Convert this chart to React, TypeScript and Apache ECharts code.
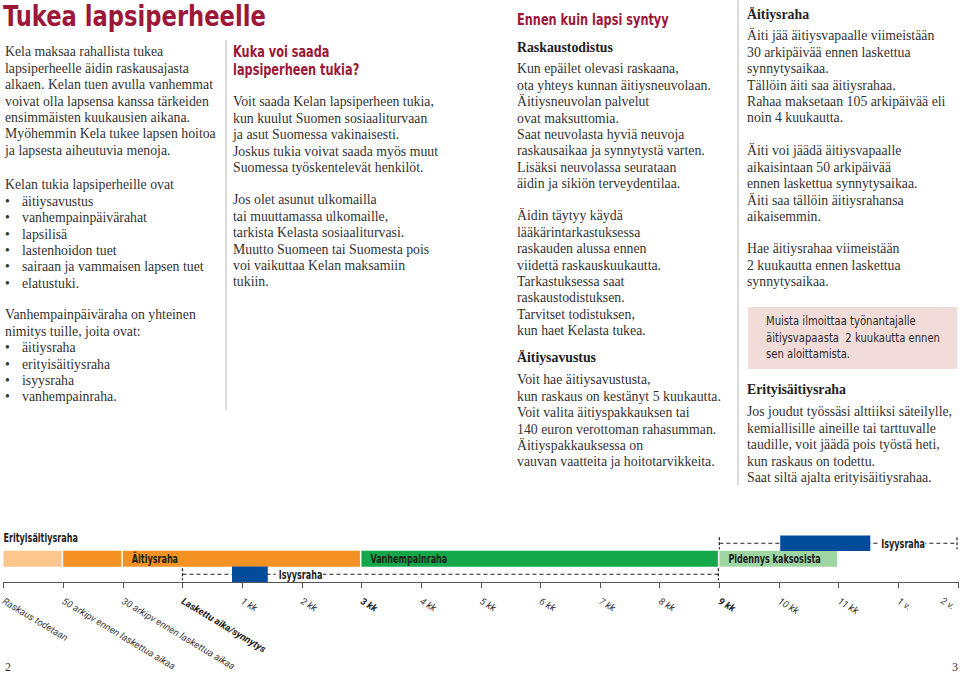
import React, { useEffect, useRef } from 'react';
import * as echarts from 'echarts';

// ---------- timeline data ----------
const tickLabels = [
  'Raskaus todetaan', '50 arkipv ennen laskettua aikaa', '30 arkipv ennen laskettua aikaa',
  'Laskettu aika/synnytys', '1 kk', '2 kk', '3 kk', '4 kk', '5 kk', '6 kk', '7 kk', '8 kk',
  '9 kk', '10 kk', '11 kk', '1 v.', '2 v.',
];
const boldTicks = ['Laskettu aika/synnytys', '3 kk', '9 kk'];

// rows from bottom to top
const rows = ['Isyysraha', 'Äitiys- ja vanhempainraha', 'Isyysraha kaksosista'];

const periodNames = ['Erityisäitiysraha', 'Äitiysraha (aikaisin)', 'Äitiysraha', 'Vanhempainraha', 'Pidennys kaksosista', 'Isyysraha', 'Isyysraha (kaksoset)'];
const periodRows = [1, 1, 1, 1, 1, 0, 2];
const periodStart = [0, 1, 2, 6, 12, 3.83, 13.02];
const periodEnd = [1, 2, 6, 12, 14, 4.43, 14.53];
const periodLabels = ['Erityisäitiysraha', '', 'Äitiysraha', 'Vanhempainraha', 'Pidennys kaksosista', '', ''];
const periodColors = ['#FCC68C', '#F39223', '#F39223', '#14A84B', '#9FD4A3', '#034C9B', '#034C9B'];

const optionRows = [0, 2];
const optionStart = [3, 12];
const optionEnd = [12, 16];
const optionLabel = 'Isyysraha';

// ---------- page text ----------
const FONT_SERIF = "'Liberation Serif', 'DejaVu Serif', serif";
const FONT_COND = "'DejaVu Sans Condensed', 'DejaVu Sans', sans-serif";
const FONT_AXIS = "Roboto, 'Liberation Sans', sans-serif";
const RED = '#9C1738';
const TXT = '#333333';

const title = 'Tukea lapsiperheelle';
const col1A = ['Kela maksaa rahallista tukea', 'lapsiperheelle äidin raskausajasta', 'alkaen. Kelan tuen avulla vanhemmat', 'voivat olla lapsensa kanssa tärkeiden', 'ensimmäisten kuukausien aikana.', 'Myöhemmin Kela tukee lapsen hoitoa', 'ja lapsesta aiheutuvia menoja.'];
const col1BIntro = 'Kelan tukia lapsiperheille ovat';
const col1BItems = ['äitiysavustus', 'vanhempainpäivärahat', 'lapsilisä', 'lastenhoidon tuet', 'sairaan ja vammaisen lapsen tuet', 'elatustuki.'];
const col1CIntro = ['Vanhempainpäiväraha on yhteinen', 'nimitys tuille, joita ovat:'];
const col1CItems = ['äitiysraha', 'erityisäitiysraha', 'isyysraha', 'vanhempainraha.'];

const col2Head = ['Kuka voi saada', 'lapsiperheen tukia?'];
const col2A = ['Voit saada Kelan lapsiperheen tukia,', 'kun kuulut Suomen sosiaaliturvaan', 'ja asut Suomessa vakinaisesti.', 'Joskus tukia voivat saada myös muut', 'Suomessa työskentelevät henkilöt.'];
const col2B = ['Jos olet asunut ulkomailla', 'tai muuttamassa ulkomaille,', 'tarkista Kelasta sosiaaliturvasi.', 'Muutto Suomeen tai Suomesta pois', 'voi vaikuttaa Kelan maksamiin', 'tukiin.'];

const col3Head = 'Ennen kuin lapsi syntyy';
const col3Sub1 = 'Raskaustodistus';
const col3A = ['Kun epäilet olevasi raskaana,', 'ota yhteys kunnan äitiysneuvolaan.', 'Äitiysneuvolan palvelut', 'ovat maksuttomia.', 'Saat neuvolasta hyviä neuvoja', 'raskausaikaa ja synnytystä varten.', 'Lisäksi neuvolassa seurataan', 'äidin ja sikiön terveydentilaa.'];
const col3B = ['Äidin täytyy käydä', 'lääkärintarkastuksessa', 'raskauden alussa ennen', 'viidettä raskauskuukautta.', 'Tarkastuksessa saat', 'raskaustodistuksen.', 'Tarvitset todistuksen,', 'kun haet Kelasta tukea.'];
const col3Sub2 = 'Äitiysavustus';
const col3C = ['Voit hae äitiysavustusta,', 'kun raskaus on kestänyt 5 kuukautta.', 'Voit valita äitiyspakkauksen tai', '140 euron verottoman rahasumman.', 'Äitiyspakkauksessa on', 'vauvan vaatteita ja hoitotarvikkeita.'];

const col4Sub1 = 'Äitiysraha';
const col4A = ['Äiti jää äitiysvapaalle viimeistään', '30 arkipäivää ennen laskettua', 'synnytysaikaa.', 'Tällöin äiti saa äitiysrahaa.', 'Rahaa maksetaan 105 arkipäivää eli', 'noin 4 kuukautta.'];
const col4B = ['Äiti voi jäädä äitiysvapaalle', 'aikaisintaan 50 arkipäivää', 'ennen laskettua synnytysaikaa.', 'Äiti saa tällöin äitiysrahansa', 'aikaisemmin.'];
const col4C = ['Hae äitiysrahaa viimeistään', '2 kuukautta ennen laskettua', 'synnytysaikaa.'];
const col4Note = ['Muista ilmoittaa työnantajalle', 'äitiysvapaasta  2 kuukautta ennen', 'sen aloittamista.'];
const col4Sub2 = 'Erityisäitiysraha';
const col4D = ['Jos joudut työssäsi alttiiksi säteilylle,', 'kemiallisille aineille tai tarttuvalle', 'taudille, voit jäädä pois työstä heti,', 'kun raskaus on todettu.', 'Saat siltä ajalta erityisäitiysrahaa.'];

const LH = 16.4;

function block(x: number, yc: number, lines: string[] | string, o: any = {}) {
  const lh = o.lh ?? LH;
  const arr = Array.isArray(lines) ? lines : [lines];
  return {
    type: 'text',
    x,
    y: yc - lh / 2,
    scaleX: o.scaleX ?? 1,
    silent: true,
    z: 10,
    style: {
      text: arr.join('\n'),
      fill: o.fill ?? TXT,
      fontSize: o.size ?? 13.8,
      fontFamily: o.family ?? FONT_SERIF,
      fontWeight: o.weight ?? 'normal',
      lineHeight: lh,
      verticalAlign: 'top',
      align: 'left',
    },
  };
}

function bulletBlock(x: number, yc: number, items: string[]) {
  return [
    block(x, yc, items.map(() => '•')),
    block(x + 17, yc, items),
  ];
}

export default function App() {
  const ref = useRef<HTMLDivElement>(null);
  useEffect(() => {
    if (!ref.current) return;
    const chart = echarts.init(ref.current, undefined, { renderer: 'svg' });

    const headOpts = { size: 15, lh: 18, family: FONT_COND, weight: 'bold', fill: RED, scaleX: 0.84 };
    const graphics: any[] = [
      block(3, 16, title, { size: 28, lh: 30, family: FONT_COND, weight: 'bold', fill: RED, scaleX: 0.9 }),
      // separators
      { type: 'line', silent: true, shape: { x1: 226, y1: 40, x2: 226, y2: 410 }, style: { stroke: '#cfcfcf', lineWidth: 1.5 } },
      { type: 'line', silent: true, shape: { x1: 738, y1: 0, x2: 738, y2: 485 }, style: { stroke: '#cfcfcf', lineWidth: 1.5 } },
      // column 1
      block(5, 52, col1A),
      block(5, 185, col1BIntro),
      ...bulletBlock(5, 185 + LH, col1BItems),
      block(5, 315, col1CIntro),
      ...bulletBlock(5, 315 + 2 * LH, col1CItems),
      // column 2
      block(233, 52, col2Head, headOpts),
      block(233, 102, col2A),
      block(233, 200, col2B),
      // column 3
      block(517, 20, col3Head, headOpts),
      block(517, 48, col3Sub1, { weight: 'bold', fill: '#222' }),
      block(517, 69, col3A),
      block(517, 216, col3B),
      block(517, 358, col3Sub2, { weight: 'bold', fill: '#222' }),
      block(517, 380, col3C),
      // column 4
      block(747, 15, col4Sub1, { weight: 'bold', fill: '#222' }),
      block(747, 36, col4A),
      block(747, 151, col4B),
      block(747, 249, col4C),
      { type: 'rect', silent: true, shape: { x: 748, y: 307, width: 209, height: 62 }, style: { fill: '#F2DCD9' } },
      block(766, 321, col4Note, { size: 13, family: FONT_COND, fill: '#2a2a2a', scaleX: 0.86 }),
      block(747, 390, col4Sub2, { weight: 'bold', fill: '#222' }),
      block(747, 412, col4D),
      // page numbers
      block(5, 667, '2', { size: 12 }),
      block(952, 667, '3', { size: 12 }),
    ];

    const periodData = periodNames.map((n, i) => ({
      name: n,
      value: [periodRows[i], periodStart[i], periodEnd[i], i],
    }));
    const optionData = optionRows.map((r, i) => ({
      name: optionLabel,
      value: [r, optionStart[i], optionEnd[i], i],
    }));

    const barFont = { fontSize: 11.5, fontFamily: FONT_COND, fontWeight: 'bold' as const };
    const BAR_SCALE = 0.78;
    const lastTick = tickLabels[tickLabels.length - 1];
    const AX = 9.6;

    chart.setOption({
      animation: false,
      grid: { left: 3.5, right: 2, top: 535.5, bottom: 91, containLabel: false, outerBoundsMode: 'none' },
      xAxis: {
        type: 'value',
        min: 0,
        max: 16,
        interval: 1,
        splitLine: { show: false },
        axisLine: { show: true, lineStyle: { color: '#555', width: 1 } },
        axisTick: { show: true, length: 6, lineStyle: { color: '#555', width: 1 } },
        axisLabel: {
          rotate: -31,
          margin: 18,
          showMinLabel: true,
          showMaxLabel: true,
          hideOverlap: false,
          alignMaxLabel: 'right',
          color: '#3a3a3a',
          fontStyle: 'italic',
          fontSize: AX,
          fontFamily: FONT_AXIS,
          formatter: (v: number) => {
            const t = tickLabels[Math.round(v)] ?? '';
            if (t === lastTick) return `{e|${t}}`;
            return boldTicks.includes(t) ? `{b|${t}}` : t;
          },
          rich: {
            b: { fontWeight: 'bold', fontStyle: 'italic', fontSize: AX, fontFamily: FONT_AXIS, color: '#222' },
            e: { fontStyle: 'italic', fontSize: AX, fontFamily: FONT_AXIS, color: '#3a3a3a', padding: [16, 0, 0, 0] },
          },
        },
      },
      yAxis: {
        type: 'category',
        data: rows,
        show: false,
      },
      graphic: graphics,
      series: [
        {
          type: 'custom',
          name: optionLabel,
          z: 2,
          clip: false,
          data: optionData,
          renderItem: (params: any, api: any) => {
            const row = api.value(0);
            const s = api.value(1);
            const e = api.value(2);
            const a = api.coord([s, row]);
            const b = api.coord([e, row]);
            const y = a[1];
            const stroke = { stroke: '#222', lineWidth: 1.2, lineDash: [4, 3] };
            const pIdx = periodRows.findIndex((r, k) => r === row && periodLabels[k] === '' && periodStart[k] >= s && periodEnd[k] <= e);
            const labelX = pIdx >= 0 ? api.coord([periodEnd[pIdx], row])[0] + 11 : a[0] + 10;
            return {
              type: 'group',
              children: [
                { type: 'line', shape: { x1: a[0], y1: y, x2: b[0] - 1, y2: y }, style: stroke },
                { type: 'line', shape: { x1: a[0], y1: y - 6, x2: a[0], y2: y + 6 }, style: { ...stroke, lineDash: [3, 2] } },
                { type: 'line', shape: { x1: b[0] - 1, y1: y - 6, x2: b[0] - 1, y2: y + 6 }, style: { ...stroke, lineDash: [3, 2] } },
                { type: 'rect', shape: { x: labelX - 3, y: y - 5, width: 47, height: 10 }, style: { fill: '#fff' } },
                {
                  type: 'text',
                  x: labelX,
                  y,
                  scaleX: BAR_SCALE,
                  style: {
                    text: optionLabel,
                    ...barFont,
                    fill: '#222',
                    verticalAlign: 'middle',
                    align: 'left',
                  },
                },
              ],
            };
          },
        },
        {
          type: 'custom',
          name: 'Jaksot',
          z: 3,
          clip: false,
          data: periodData,
          renderItem: (params: any, api: any) => {
            const row = api.value(0);
            const s = api.value(1);
            const e = api.value(2);
            const i = api.value(3);
            const a = api.coord([s, row]);
            const b = api.coord([e, row]);
            const h = api.size([0, 1])[1];
            const isMain = row === 1;
            const height = isMain ? h + 0.5 : h;
            const top = a[1] - height / 2;
            const width = isMain ? b[0] - a[0] - 1.5 : b[0] - a[0];
            const children: any[] = [
              { type: 'rect', shape: { x: a[0], y: top, width, height }, style: { fill: periodColors[i] } },
            ];
            const label = periodLabels[i];
            if (label) {
              const wide = width > 90;
              children.push({
                type: 'text',
                x: wide ? a[0] + 9 : a[0],
                y: wide ? a[1] : top - 13,
                scaleX: BAR_SCALE,
                style: {
                  text: label,
                  ...barFont,
                  fill: '#1d1d1b',
                  verticalAlign: 'middle',
                  align: 'left',
                },
              });
            }
            return { type: 'group', children };
          },
        },
      ],
    });
    return () => chart.dispose();
  }, []);
  return <div ref={ref} style={{ position: 'fixed', left: 0, top: 0, width: 960, height: 673, background: '#fff' }} />;
}
